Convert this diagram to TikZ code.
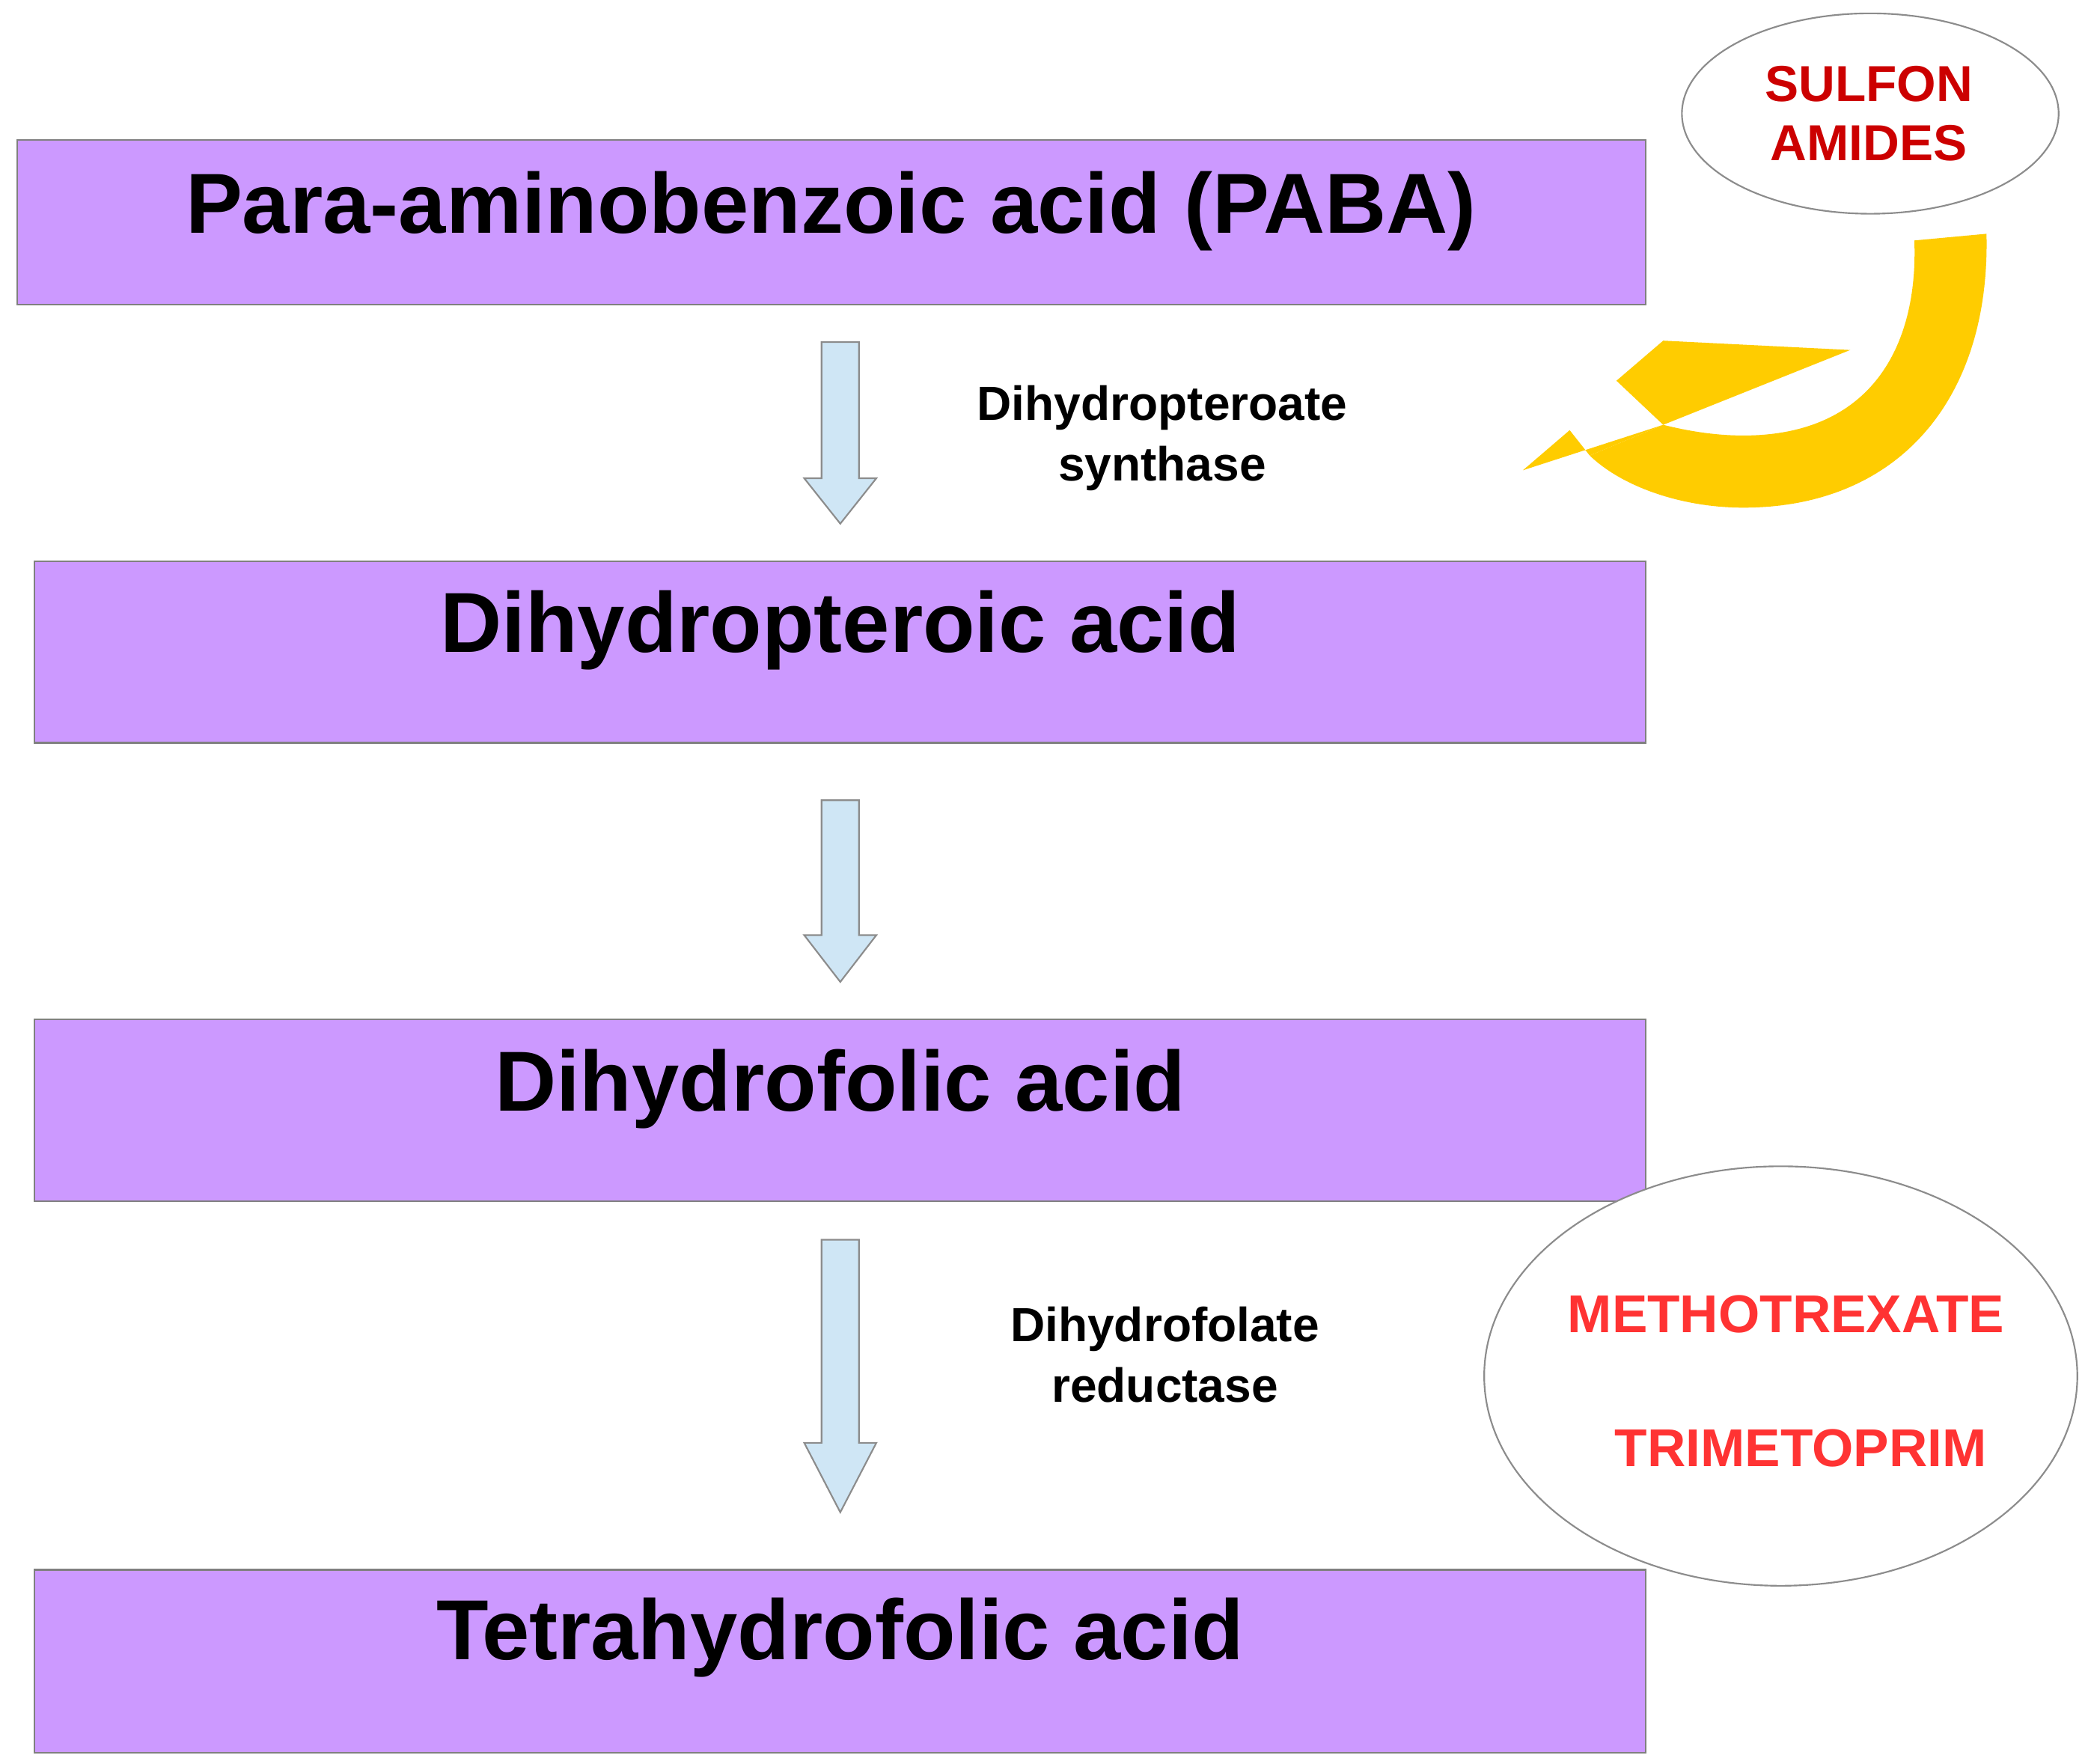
\documentclass[tikz,border=0pt]{standalone}
\usepackage{fontspec}
\setmainfont{Liberation Sans}
\begin{document}
\begin{tikzpicture}[x=1bp,y=-1bp,
  box/.style={draw=black!50,line width=1.2bp,fill=boxpurple},
  big/.style={font=\fontsize{64}{70}\selectfont\bfseries},
  lab/.style={font=\fontsize{36}{46}\selectfont\bfseries,align=center},
  ell/.style={draw=black!45,line width=1.2bp,fill=white},
  barrow/.style={draw=black!45,line width=1.2bp,fill=arrowblue}]
\definecolor{boxpurple}{HTML}{CC99FF}
\definecolor{arrowblue}{HTML}{CFE6F5}
\definecolor{yel}{HTML}{FFCC00}
\definecolor{dred}{HTML}{CC0000}
\definecolor{bred}{HTML}{FF3333}
\useasboundingbox (0,0) rectangle (1563,1320);
% boxes
\draw[box] (13,105) rectangle (1232,228);
\draw[box] (26,420) rectangle (1232,556);
\draw[box] (26,763) rectangle (1232,899);
\draw[box] (26,1175) rectangle (1232,1312);
\node[big] (paba) at (622,158) {Para-aminobenzoic acid (PABA)};
\node[big] (dpa) at (629,472) {Dihydropteroic acid};
\node[big] (dfa) at (629,815) {Dihydrofolic acid};
\node[big] (tfa) at (629,1226) {Tetrahydrofolic acid};
% block arrows
\draw[barrow] (615,256) -- (643,256) -- (643,358) -- (656,358) -- (629,392) -- (602,358) -- (615,358) -- cycle;
\draw[barrow] (615,599) -- (643,599) -- (643,700) -- (656,700) -- (629,735) -- (602,700) -- (615,700) -- cycle;
\draw[barrow] (615,928) -- (643,928) -- (643,1080) -- (656,1080) -- (629,1132) -- (602,1080) -- (615,1080) -- cycle;
\node[lab] (enz1) at (870,328) {Dihydropteroate\\synthase};
\node[lab] (enz2) at (872,1014) {Dihydrofolate\\reductase};
% ellipses
\draw[ell] (1400,85) ellipse [x radius=141, y radius=75];
\node[font=\fontsize{38}{44}\selectfont\bfseries,text=dred,align=center] (sulf) at (1399,85) {SULFON\\AMIDES};
\draw[ell] (1333,1030) ellipse [x radius=222, y radius=157];
\node[font=\fontsize{40}{46}\selectfont\bfseries,text=bred] (mtx) at (1337,984) {METHOTREXATE};
\node[font=\fontsize{40}{46}\selectfont\bfseries,text=bred] (tmp) at (1348,1084) {TRIMETOPRIM};
% yellow curved arrow
\fill[yel] (1487,175) .. controls (1490,300) and (1420,380) .. (1305,380)
  .. controls (1260,380) and (1215,365) .. (1190,341)
  -- (1245,318)
  .. controls (1265,323) and (1285,326) .. (1305,326)
  .. controls (1400,326) and (1436,260) .. (1433,180) -- cycle;
\fill[yel] (1140,352) -- (1175,322) -- (1190,341) -- (1245,318) -- cycle;
\fill[yel] (1245,318) -- (1210,285) -- (1245,255) -- (1385,262) -- cycle;
\end{tikzpicture}
\end{document}
